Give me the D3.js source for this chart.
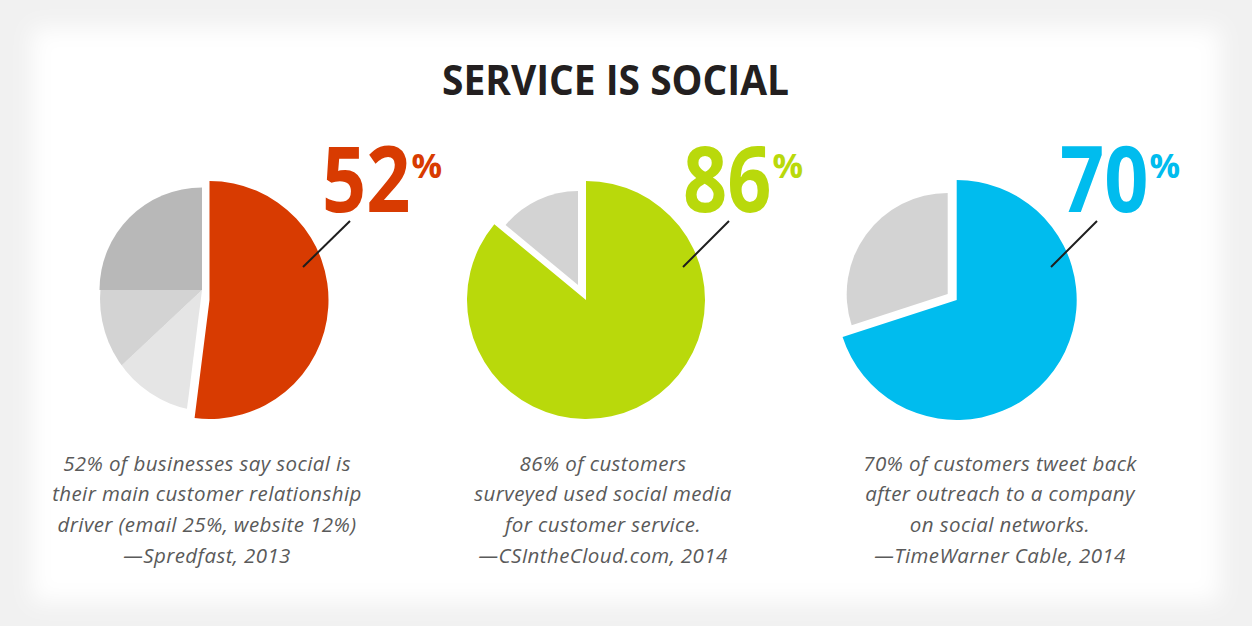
<!DOCTYPE html>
<html><head><meta charset="utf-8">
<script src="https://cdn.jsdelivr.net/npm/d3@7"></script>
<style>html,body{margin:0;padding:0;background:#f1f1f1;overflow:hidden} svg{display:block}</style>
</head><body><svg id="c" width="1252" height="626"></svg>
<script>
// ---------- data ----------
const title = "SERVICE IS SOCIAL";
const headlineValues = [52, 86, 70];
const pie1Labels = ["social", "other", "website", "email"];
const pie1Values = [52, 11, 12, 25];
const pie2Labels = ["social", "other"];
const pie2Values = [86, 14];
const pie3Labels = ["tweet back", "other"];
const pie3Values = [70, 30];
const captions = [
  ["52% of businesses say social is", "their main customer relationship", "driver (email 25%, website 12%)"],
  ["86% of customers", "surveyed used social media", "for customer service."],
  ["70% of customers tweet back", "after outreach to a company", "on social networks."]
];
const sources = ["\u2014Spredfast, 2013", "\u2014CSIntheCloud.com, 2014", "\u2014TimeWarner Cable, 2014"];

// ---------- style / layout ----------
const accentColors = ["#d83b01", "#b9d90b", "#00bcee"];
const grayColors = [["#e5e5e5", "#d3d3d3", "#b8b8b8"], ["#d3d3d3"], ["#d3d3d3"]];
const panels = [
  { apex: [209.5, 300], r: 119, grayApex: [202, 290], grayR: [130, 130, 102.5], clip: { cx: 11, cy: 9, r: 113, idx: [0, 1] },
    line: [[303, 267], [350, 221]], labelX: 322, captionX: 207 },
  { apex: [586, 300], r: 119, grayApex: [578, 285], grayR: [94],
    line: [[683, 267], [729, 221]], labelX: 683, captionX: 603 },
  { apex: [956.7, 300], r: 120, grayApex: [947.7, 294], grayR: [101],
    line: [[1051, 267], [1097, 221]], labelX: 1060, captionX: 1000 }
];
const allValues = [pie1Values, pie2Values, pie3Values];

const svg = d3.select("#c");
const defs = svg.append("defs");
defs.append("filter").attr("id", "blur").attr("x", "-5%").attr("y", "-5%").attr("width", "110%").attr("height", "110%")
  .append("feGaussianBlur").attr("stdDeviation", 11);

svg.append("rect").attr("width", 1252).attr("height", 626).attr("fill", "#f1f1f1");
svg.append("rect").attr("x", 32).attr("y", 28).attr("width", 1188).attr("height", 574)
  .attr("fill", "#ffffff").attr("filter", "url(#blur)");

// title
svg.append("text").attr("x", 615.5).attr("y", 94.5).attr("text-anchor", "middle")
  .attr("font-family", "'Open Sans', sans-serif").attr("font-weight", 700).attr("font-size", 41)
  .attr("fill", "#231f20").attr("textLength", 347).attr("lengthAdjust", "spacingAndGlyphs").text(title);

const pie = d3.pie().sort(null).value(d => d).startAngle(0).endAngle(2 * Math.PI);

panels.forEach((P, i) => {
  const arcs = pie(allValues[i]);
  // highlighted slice
  svg.append("g").attr("transform", `translate(${P.apex[0]},${P.apex[1]})`)
    .append("path").attr("d", d3.arc().innerRadius(0).outerRadius(P.r)(arcs[0]))
    .attr("fill", accentColors[i]);
  // gray slices
  const gg = svg.append("g").attr("transform", `translate(${P.grayApex[0]},${P.grayApex[1]})`);
  if (P.clip) {
    defs.append("clipPath").attr("id", "clip" + i).append("circle")
      .attr("cx", P.clip.cx).attr("cy", P.clip.cy).attr("r", P.clip.r);
  }
  arcs.slice(1).forEach((a, j) => {
    const p = gg.append("path").attr("d", d3.arc().innerRadius(0).outerRadius(P.grayR[j])(a))
      .attr("fill", grayColors[i][j]);
    if (P.clip && P.clip.idx.includes(j)) p.attr("clip-path", `url(#clip${i})`);
  });
  // leader line
  svg.append("line").attr("x1", P.line[0][0]).attr("y1", P.line[0][1])
    .attr("x2", P.line[1][0]).attr("y2", P.line[1][1])
    .attr("stroke", "#1e1e1e").attr("stroke-width", 2);
  // big number
  const num = svg.append("text").attr("x", 0).attr("y", 0)
    .attr("font-family", "'Open Sans', sans-serif").attr("font-weight", 700).attr("font-size", 91)
    .attr("fill", accentColors[i]).text(headlineValues[i]);
  const w = num.node().getComputedTextLength();
  const sx = 0.85;
  num.attr("transform", `translate(${P.labelX},211.7) scale(${sx},1)`);
  svg.append("text").attr("x", P.labelX + w * sx + 1).attr("y", 178)
    .attr("font-family", "'Open Sans', sans-serif").attr("font-weight", 700).attr("font-size", 34)
    .attr("fill", accentColors[i]).text("%");
  // caption
  const cap = captions[i].concat([sources[i]]);
  cap.forEach((line, k) => {
    svg.append("text").attr("x", P.captionX).attr("y", 470.7 + k * 30.7).attr("text-anchor", "middle")
      .attr("font-family", "'Open Sans', sans-serif").attr("font-style", "italic").attr("font-weight", 400)
      .attr("font-size", 20.5).attr("letter-spacing", 0.4).attr("fill", "#5a5a5a").text(line);
  });
});
</script></body></html>
